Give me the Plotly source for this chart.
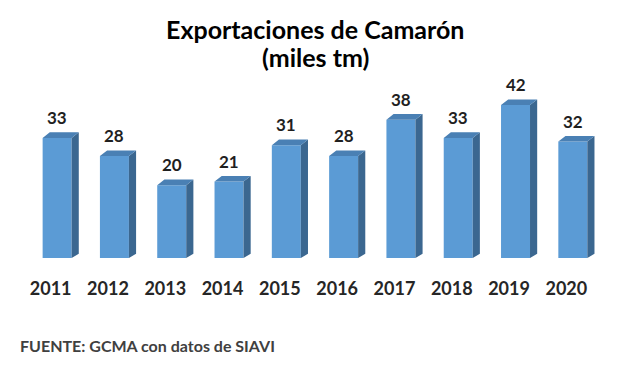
import plotly.graph_objects as go

years = ["2011", "2012", "2013", "2014", "2015", "2016", "2017", "2018", "2019", "2020"]
values = [33, 28, 20, 21, 31, 28, 38, 33, 42, 32]

FRONT = "#5B9BD5"
TOP = "#4A80B4"
SIDE = "#3B6790"

idx = list(range(len(years)))
off = 0.113      # front face shift from category center (3D projection)
w = 0.506        # front face width (category units)
dx = 0.125       # depth in x (category units)
dy = 1.55        # depth in y (value units)

side_x, side_y, top_x, top_y = [], [], [], []
for i, v in zip(idx, values):
    xl = i + off - w / 2
    xr = i + off + w / 2
    side_x += [xr, xr + dx, xr + dx, xr, xr, None]
    side_y += [0, dy * 0.75, v + dy, v, 0, None]
    top_x += [xl, xl + dx, xr + dx, xr, xl, None]
    top_y += [v, v + dy, v + dy, v, v, None]

fig = go.Figure()
fig.add_trace(go.Bar(x=[i + off for i in idx], y=values, width=w,
                     marker=dict(color=FRONT, line=dict(width=0)), hoverinfo="skip"))
fig.add_trace(go.Scatter(x=side_x, y=side_y, mode="lines", fill="toself",
                         fillcolor=SIDE, line=dict(width=0, color=SIDE), hoverinfo="skip"))
fig.add_trace(go.Scatter(x=top_x, y=top_y, mode="lines", fill="toself",
                         fillcolor=TOP, line=dict(width=0, color=TOP), hoverinfo="skip"))

for i, v in zip(idx, values):
    fig.add_annotation(x=i + off, y=v, xref="x", yref="y", text=f"<b>{v}</b>",
                       showarrow=False, yanchor="bottom", yshift=8,
                       font=dict(family="Lato", size=17, color="#1f1f1f"))

W, H = 641, 385
l, r, t, b = 22, 46, 76, 127
pw, ph = W - l - r, H - t - b

def px(xp):
    return (xp - l) / pw

def py(yp):
    return (H - yp - b) / ph

fig.add_annotation(x=px(315), y=py(29), xref="paper", yref="paper", xanchor="center", yanchor="middle",
                   text="<b>Exportaciones de Camarón</b>",
                   showarrow=False, font=dict(family="Lato", size=25, color="#000000"))
fig.add_annotation(x=px(315), y=py(57), xref="paper", yref="paper", xanchor="center", yanchor="middle",
                   text="<b>(miles tm)</b>",
                   showarrow=False, font=dict(family="Lato", size=25, color="#000000"))
fig.add_annotation(x=px(18), y=py(345), xref="paper", yref="paper", xanchor="left", yanchor="middle",
                   text="<b>FUENTE: GCMA con datos de SIAVI</b>", showarrow=False,
                   font=dict(family="Lato", size=16, color="#404040"))

fig.update_layout(
    width=W, height=H,
    margin=dict(l=l, r=r, t=t, b=b),
    paper_bgcolor="white", plot_bgcolor="white",
    showlegend=False,
    xaxis=dict(range=[-0.5, 9.5], tickvals=idx, ticktext=[f"<b>{y}</b>" for y in years],
               showgrid=False, zeroline=False, showline=False,
               ticks="outside", ticklen=14, tickcolor="rgba(0,0,0,0)",
               tickfont=dict(family="Lato", size=18, color="#262626")),
    yaxis=dict(range=[0, 50], visible=False),
)

fig.write_html("out.html", config={"displayModeBar": False},
               post_script="document.body.style.margin='0';")
